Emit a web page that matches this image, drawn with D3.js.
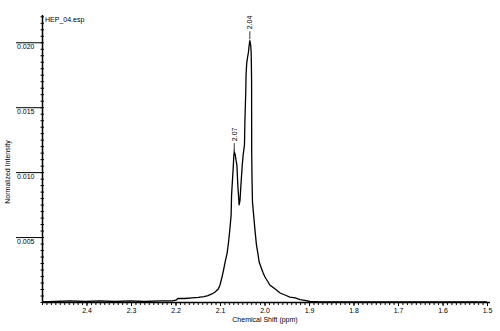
<!DOCTYPE html>
<html>
<head>
<meta charset="utf-8">
<script src="https://cdn.jsdelivr.net/npm/d3@7/dist/d3.min.js"></script>
<style>
  body { margin: 0; background: #fff; }
  svg { display: block; font-family: "Liberation Sans", Arial, sans-serif; }
  .axis path, .axis line { stroke: #000; }
  .axis text { fill: #000; font-size: 7px; }
</style>
</head>
<body>
<svg id="chart" width="500" height="331"></svg>
<script>
/* SPECTRUM DATA */
const ppm = [2.500, 2.471, 2.437, 2.403, 2.370, 2.336, 2.302, 2.269, 2.235, 2.208,
  2.199, 2.194, 2.179, 2.163, 2.149, 2.136, 2.127, 2.118, 2.111, 2.104,
  2.100, 2.096, 2.092, 2.089, 2.084, 2.081, 2.078, 2.075, 2.074, 2.072,
  2.070, 2.069, 2.068, 2.066, 2.064, 2.062, 2.060, 2.058, 2.057, 2.055,
  2.053, 2.050, 2.048, 2.045, 2.044, 2.043, 2.042, 2.0415, 2.040, 2.038,
  2.036, 2.035, 2.033, 2.031, 2.030, 2.0297, 2.029, 2.0289, 2.0288, 2.028,
  2.027, 2.025, 2.023, 2.021, 2.018, 2.015, 2.012, 2.008, 2.003, 1.999,
  1.992, 1.988, 1.976, 1.965, 1.954, 1.943, 1.931, 1.920, 1.909, 1.898,
  1.875, 1.850, 1.800, 1.750, 1.700, 1.650, 1.600, 1.550, 1.500];
const intensity = [0, 0.00004, 0.00008, 0.00004, 0.00008, 0.00004, 0.00008, 0.00004, 0.00008, 0.00008,
  0.00015, 0.00027, 0.00027, 0.00031, 0.00035, 0.00042, 0.0005, 0.00062, 0.00077, 0.001,
  0.00131, 0.00185, 0.00246, 0.003, 0.00377, 0.00454, 0.00554, 0.00669, 0.00823, 0.00938,
  0.01054, 0.01123, 0.01154, 0.01138, 0.01092, 0.01054, 0.009, 0.008, 0.00746, 0.00785,
  0.009, 0.01054, 0.01131, 0.01208, 0.014, 0.01515, 0.01631, 0.01746, 0.01838, 0.01885,
  0.01923, 0.01962, 0.02015, 0.01977, 0.01923, 0.01877, 0.01708, 0.01477, 0.01169, 0.00938,
  0.00769, 0.00692, 0.00615, 0.00538, 0.00438, 0.00377, 0.00308, 0.00269, 0.00223, 0.00192,
  0.00154, 0.00131, 0.001, 0.00069, 0.00054, 0.00038, 0.00031, 0.00019, 0.00012, 0.00004,
  0, 0, 0, 0, 0, 0, 0, 0, 0];

const xTicks = [2.4, 2.3, 2.2, 2.1, 2.0, 1.9, 1.8, 1.7, 1.6, 1.5];
const yTicks = [0.005, 0.010, 0.015, 0.020];
const peakLabels = [2.07, 2.04];
const title = "HEP_04.esp";

/* SCALES */
const svg = d3.select('#chart');
const x = d3.scaleLinear().domain([2.5, 1.5]).range([42, 487]);
const y = d3.scaleLinear().domain([0, 0.0221]).range([302, 15]);

/* X AXIS: minor + major */
svg.append('g').attr('class', 'axis')
  .attr('transform', 'translate(0,302)')
  .call(d3.axisBottom(x).ticks(100).tickSize(3).tickFormat(''))
  .select('.domain').remove();
const gx = svg.append('g').attr('class', 'axis')
  .attr('transform', 'translate(0,302)')
  .call(d3.axisBottom(x).tickValues(xTicks).tickSize(4).tickSizeOuter(0)
    .tickFormat(d3.format('.1f')));
gx.select('.domain').attr('d', 'M42,0.5H490').attr('stroke-width', 1.5);
gx.selectAll('text').attr('dy', '0.55em').attr('y', 7);

/* Y AXIS: minor crossing ticks + major with label under the line */
svg.append('g').attr('class', 'axis')
  .attr('transform', 'translate(42,0)')
  .call(d3.axisRight(y).ticks(44).tickSize(2).tickFormat(''))
  .select('.domain').remove();
svg.append('g').attr('class', 'axis')
  .attr('transform', 'translate(42,0)')
  .call(d3.axisLeft(y).ticks(44).tickSize(1.5).tickFormat(''))
  .select('.domain').remove();
const gy = svg.append('g').attr('class', 'axis')
  .attr('transform', 'translate(42,0)')
  .call(d3.axisLeft(y).tickValues(yTicks).tickSize(26).tickSizeOuter(0)
    .tickFormat(d3.format('.3f')));
gy.select('.domain').attr('d', 'M0.5,15V303').attr('stroke-width', 1.5);
gy.selectAll('text')
  .attr('x', -25).attr('dy', '0.9em').attr('text-anchor', 'start');

/* AXIS TITLES */
svg.append('text')
  .attr('x', 265).attr('y', 322)
  .attr('text-anchor', 'middle').attr('font-size', 7)
  .text('Chemical Shift (ppm)');
svg.append('text')
  .attr('transform', 'translate(10,172) rotate(-90)')
  .attr('text-anchor', 'middle').attr('font-size', 7)
  .text('Normalized Intensity');
svg.append('text')
  .attr('x', 45).attr('y', 22).attr('font-size', 7)
  .text(title);

/* SPECTRUM LINE */
const pts = ppm.map((p, i) => [p, intensity[i]]);
svg.append('path')
  .datum(pts)
  .attr('fill', 'none')
  .attr('stroke', '#000')
  .attr('stroke-width', 1.3)
  .attr('d', d3.line().x(d => x(d[0])).y(d => y(d[1])));

/* PEAK LABELS */
peakLabels.forEach(function(lbl){
  let near = pts.filter(d => Math.abs(d[0] - lbl) < 0.01);
  let top = near.reduce((a, b) => b[1] > a[1] ? b : a);
  let px = x(top[0]);
  let py = y(top[1]);
  svg.append('line')
    .attr('x1', px).attr('x2', px)
    .attr('y1', py - 1).attr('y2', py - 9)
    .attr('stroke', '#000').attr('stroke-width', 0.8);
  svg.append('text')
    .attr('transform', 'translate(' + (px + 2.5) + ',' + (py - 11) + ') rotate(-90)')
    .attr('font-size', 7)
    .text(lbl.toFixed(2));
});
</script>
</body>
</html>
